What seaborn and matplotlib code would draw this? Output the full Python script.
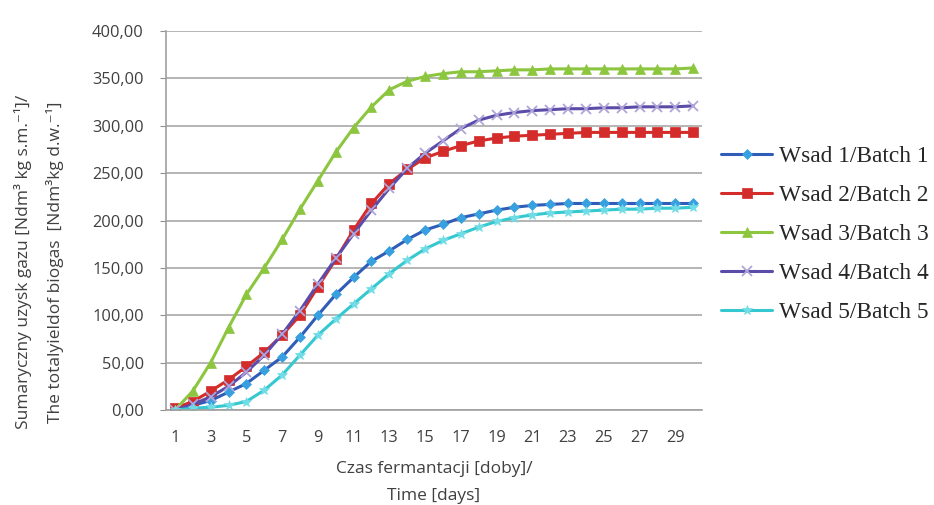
import numpy as np
import pandas as pd
import matplotlib
matplotlib.use('Agg')
import matplotlib.pyplot as plt
from matplotlib.ticker import FuncFormatter
import seaborn as sns

# Data (cumulative biogas yield per day)
days = list(range(1, 31))
batch1 = [0, 5, 10, 19, 28, 42, 56, 77, 100, 122, 140, 157, 168, 180, 190,
          196, 203, 207, 211, 214, 216, 217, 218, 218, 218, 218, 218, 218, 218, 218]
batch2 = [2, 9, 20, 32, 46, 61, 79, 100, 130, 159, 190, 218, 239, 254, 266,
          273, 279, 284, 287, 289, 290, 291, 292, 293, 293, 293, 293, 293, 293, 293]
batch3 = [0, 20, 50, 87, 122, 150, 180, 212, 242, 272, 298, 320, 338, 347, 352,
          355, 357, 357, 358, 359, 359, 360, 360, 360, 360, 360, 360, 360, 360, 361]
batch4 = [0, 6, 14, 25, 40, 58, 80, 105, 133, 160, 186, 211, 234, 255, 271,
          284, 297, 306, 311, 314, 316, 317, 318, 318, 319, 319, 320, 320, 320, 321]
batch5 = [0, 2, 3, 5, 9, 21, 37, 58, 79, 96, 112, 128, 144, 158, 170,
          179, 186, 193, 199, 203, 206, 208, 209, 210, 211, 212, 212, 213, 213, 214]

labels = ['Wsad 1/Batch 1', 'Wsad 2/Batch 2', 'Wsad 3/Batch 3',
          'Wsad 4/Batch 4', 'Wsad 5/Batch 5']
x_ticks = list(range(1, 30, 2))
y_ticks = list(range(0, 401, 50))

df = pd.DataFrame({'day': days * 5,
                   'value': batch1 + batch2 + batch3 + batch4 + batch5,
                   'batch': [l for l in labels for _ in days]})

# line colour, marker, marker face colour, marker size
styles = {
    labels[0]: ('#2F5DB8', 'D', '#39A0E0', 5.5),
    labels[1]: ('#D42B2B', 's', '#D42B2B', 7.5),
    labels[2]: ('#8CC63E', '^', '#8CC63E', 7.5),
    labels[3]: ('#5A4CA8', 'x', '#B0A4D8', 6.5),
    labels[4]: ('#35C8D0', '*', '#70DCE6', 7.5),
}

sns.set_style('white')
plt.rcParams['font.family'] = ['Open Sans', 'DejaVu Sans']

fig = plt.figure(figsize=(9.34, 5.05), dpi=100)
ax = fig.add_axes([0.1777, 0.188, 0.574, 0.7506])

for name in labels:
    col, mk, mfc, ms = styles[name]
    sns.lineplot(data=df[df['batch'] == name], x='day', y='value', ax=ax,
                 color=col, marker=mk, markersize=ms, markerfacecolor=mfc,
                 markeredgecolor=mfc, markeredgewidth=1.3 if mk == 'x' else 0.5,
                 linewidth=2.2, label=name)

ax.set_xlim(0.5, 30.5)
ax.set_ylim(0, 400)
ax.set_xticks(x_ticks)
ax.set_yticks(y_ticks)
ax.yaxis.set_major_formatter(FuncFormatter(lambda v, p: f'{v:.2f}'.replace('.', ',')))
ax.tick_params(axis='both', labelsize=11.8, colors='#404040')
ax.tick_params(axis='y', length=4, color='#909090', direction='out', left=True, pad=12)
ax.tick_params(axis='x', length=0, pad=14)
ax.grid(axis='y', color='#A8A8A8', linewidth=1.2)
ax.set_axisbelow(True)
for s in ['top', 'right']:
    ax.spines[s].set_visible(False)
for s in ['left', 'bottom']:
    ax.spines[s].set_color('#A0A0A0')
    ax.spines[s].set_linewidth(1.2)

ax.set_xlabel('Czas fermantacji [doby]/\nTime [days]', fontsize=12.5,
              color='#404040', linespacing=1.9, labelpad=11)
ax.set_ylabel('Sumaryczny uzysk gazu [Ndm³ kg s.m.⁻¹]/\n'
              'The totalyieldof biogas  [Ndm³kg d.w.⁻¹]',
              fontsize=12.5, color='#404040', linespacing=2.0)
ax.yaxis.set_label_coords(-0.19, 0.39)

leg = ax.legend(loc='center left', bbox_to_anchor=(1.035, 0.463), frameon=False,
                prop={'family': 'Liberation Serif', 'size': 16.8},
                handlelength=2.2, labelspacing=0.76, handletextpad=0.3,
                borderaxespad=0, borderpad=0)

fig.savefig('out.png', dpi=100)
